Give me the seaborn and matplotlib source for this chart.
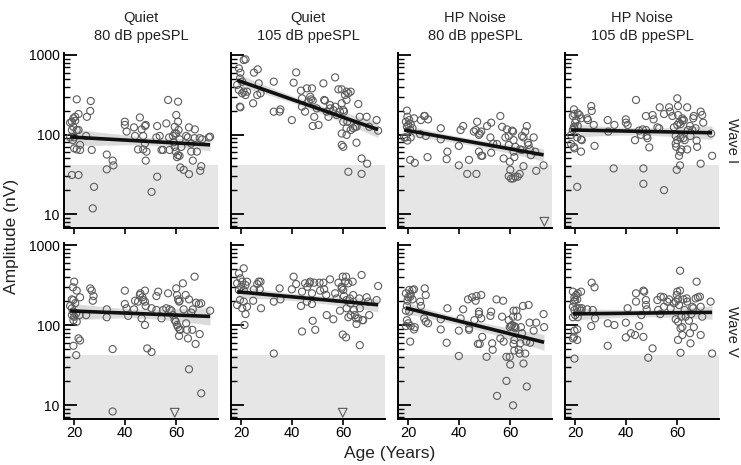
import numpy as np
import pandas as pd
import matplotlib
matplotlib.use("Agg")
import matplotlib.pyplot as plt
import seaborn as sns
from matplotlib.ticker import FixedLocator, FixedFormatter, NullFormatter

# ---------------- data ----------------
conditions = ["Quiet", "Quiet", "HP Noise", "HP Noise"]
levels = ["80 dB ppeSPL", "105 dB ppeSPL", "80 dB ppeSPL", "105 dB ppeSPL"]
waves = ["Wave I", "Wave V"]
noise_floor = 42          # nV, shaded region upper bound
nondetect_value = 8       # nV, where non-detects (triangles) are drawn
x_ticks = [20, 40, 60]
y_tick_values = [10, 100, 1000]
y_tick_labels = ["10", "100", "1000"]

# (age in years, amplitude in nV)
quiet80_wave1 = [
    (21.0, 277), (26.5, 264), (26.3, 198), (21.7, 181), (19.7, 160), (20.4, 167), (19.1, 145),
    (18.4, 141), (20.4, 149), (19.7, 125), (19.1, 114), (21.0, 114), (21.7, 114), (20.0, 92),
    (18.4, 92), (20.0, 67), (21.0, 65), (22.3, 64), (22.3, 74), (19.5, 85), (26.9, 64),
    (24.7, 96), (25.0, 167), (19.1, 31), (21.7, 31), (27.8, 22), (27.3, 11.8), (32.8, 56),
    (35.1, 47), (35.4, 41), (32.8, 36.5), (39.9, 145), (39.9, 132), (40.6, 109), (43.5, 123),
    (43.9, 96), (45.8, 164), (46.5, 116), (47.8, 128), (48.1, 132), (47.1, 96), (47.8, 77),
    (47.1, 65), (48.4, 61), (48.1, 47), (45.1, 65), (50.4, 19), (52.6, 128), (52.6, 29.5),
    (52.3, 92), (53.6, 96), (54.3, 64), (54.9, 64), (56.2, 138), (56.9, 272), (57.3, 92),
    (58.8, 96), (57.5, 64), (59.5, 125), (60.1, 176), (60.8, 259), (60.8, 145), (61.0, 114),
    (60.1, 103), (61.4, 87), (59.5, 70), (59.9, 61), (60.8, 55), (60.4, 52), (61.4, 54),
    (62.1, 70), (61.7, 38.6), (63.0, 36), (65.1, 123), (64.0, 96), (64.7, 92), (65.1, 31.8),
    (66.0, 77), (66.0, 61), (66.6, 47), (67.4, 116), (67.3, 90), (68.2, 61), (69.3, 90),
    (69.9, 40), (69.5, 35), (70.3, 87), (72.9, 92), (73.4, 94), (59.1, 80), (59.5, 103),
]
quiet105_wave1 = [
    (21.0, 865), (21.7, 882), (19.1, 679), (19.7, 600), (19.5, 508), (20.4, 462), (18.4, 420),
    (19.1, 363), (21.0, 346), (22.3, 346), (21.7, 314), (20.4, 330), (19.7, 220), (19.5, 224),
    (24.7, 247), (25.0, 600), (26.5, 660), (26.9, 440), (26.3, 314), (27.6, 330), (32.8, 462),
    (32.8, 194), (35.4, 207), (35.1, 194), (39.9, 152), (40.6, 449), (41.6, 605), (43.5, 356),
    (43.9, 224), (43.9, 285), (45.1, 194), (45.8, 381), (46.5, 259), (47.1, 299), (47.4, 277),
    (48.1, 267), (47.8, 381), (48.7, 167), (48.1, 128), (50.4, 132), (49.7, 213), (52.3, 440),
    (52.6, 272), (52.9, 267), (53.6, 194), (54.3, 167), (54.9, 213), (56.9, 523), (56.9, 224),
    (58.2, 370), (58.8, 194), (59.5, 370), (59.5, 247), (60.1, 203), (60.4, 194), (60.8, 314),
    (61.4, 346), (61.4, 272), (62.1, 330), (63.0, 346), (60.1, 145), (59.5, 103), (59.5, 74),
    (60.1, 70), (61.4, 120), (61.7, 145), (61.4, 99), (62.1, 34), (63.0, 114), (64.0, 120),
    (64.7, 125), (65.3, 125), (66.0, 242), (65.3, 79), (66.6, 167), (67.3, 50), (67.3, 32),
    (69.3, 167), (69.5, 43), (70.3, 125), (73.2, 152), (73.8, 112), (57.5, 176), (56.2, 203),
    (54.9, 235),
]
hp80_wave1 = [
    (19.5, 200), (19.7, 167), (19.1, 145), (20.4, 152), (20.0, 132), (21.0, 135), (21.7, 120),
    (22.3, 160), (19.5, 125), (20.8, 114), (18.4, 92), (19.7, 84), (19.1, 92), (21.0, 92),
    (20.8, 48), (22.6, 44), (24.7, 101), (25.0, 152), (26.3, 171), (26.5, 171), (27.8, 155),
    (26.9, 96), (27.6, 52), (32.8, 120), (32.8, 87), (35.4, 61), (35.1, 49), (39.9, 72),
    (39.9, 41), (40.6, 114), (41.6, 128), (43.9, 48), (43.2, 32), (45.8, 109), (46.5, 114),
    (46.8, 32), (47.1, 145), (47.8, 99), (48.1, 103), (48.7, 109), (47.8, 61), (48.7, 54),
    (49.1, 54), (51.0, 128), (52.3, 92), (52.6, 141), (52.6, 59), (53.4, 77), (54.9, 76),
    (56.2, 171), (56.9, 125), (57.5, 50), (58.2, 92), (58.8, 116), (59.5, 96), (59.5, 74),
    (59.9, 45.5), (60.1, 36), (60.8, 112), (61.2, 109), (61.4, 85), (61.4, 61), (61.7, 52),
    (62.1, 70), (59.5, 30), (60.4, 28), (61.2, 28), (62.1, 29.5), (63.0, 29.5), (63.8, 32),
    (64.0, 65), (64.7, 96), (65.3, 92), (65.3, 40), (66.0, 109), (66.6, 128), (67.0, 79),
    (67.3, 74), (67.9, 65), (69.3, 92), (69.9, 61), (70.3, 35), (73.2, 41), (68.2, 55),
    (64.7, 64),
]
hp105_wave1 = [
    (19.5, 207), (19.7, 181), (19.1, 171), (21.0, 185), (21.7, 176), (20.4, 152), (20.0, 141),
    (22.3, 160), (19.5, 125), (19.1, 114), (19.7, 120), (21.0, 128), (18.4, 99), (20.8, 92),
    (22.3, 87), (22.6, 85), (18.4, 76), (19.5, 70), (19.7, 67), (22.3, 61), (20.8, 22),
    (24.7, 160), (25.0, 152), (26.3, 228), (26.5, 198), (27.3, 132), (27.6, 72), (32.8, 152),
    (33.0, 109), (35.4, 132), (35.1, 37.5), (39.9, 155), (39.9, 141), (40.6, 132), (43.9, 272),
    (43.5, 85), (45.1, 112), (45.8, 99), (46.5, 116), (46.8, 37.5), (46.8, 24), (47.8, 171),
    (47.8, 114), (48.1, 96), (48.4, 90), (49.1, 69), (50.4, 176), (50.8, 155), (52.3, 123),
    (53.0, 120), (53.2, 220), (54.9, 20), (54.9, 181), (56.9, 220), (57.3, 194), (58.2, 171),
    (58.8, 123), (59.5, 96), (60.1, 285), (60.4, 228), (60.4, 176), (60.1, 132), (60.1, 85),
    (59.5, 77), (59.7, 70), (59.9, 36), (60.8, 141), (61.4, 135), (61.4, 92), (62.1, 160),
    (62.1, 149), (62.7, 152), (63.0, 85), (64.0, 220), (64.0, 65), (64.3, 114), (65.1, 128),
    (65.3, 96), (66.0, 114), (66.4, 160), (66.6, 171), (67.3, 120), (67.7, 84), (67.9, 70),
    (69.3, 194), (69.9, 176), (70.3, 141), (69.3, 43), (73.4, 103), (73.8, 54), (61.2, 61),
    (60.8, 54), (61.2, 41), (61.7, 65), (62.5, 90),
]
quiet80_wave5 = [
    (20.0, 348), (19.5, 296), (21.0, 269), (22.3, 222), (19.1, 209), (19.7, 205), (18.4, 173),
    (19.1, 162), (20.4, 187), (19.5, 147), (20.8, 140), (20.0, 127), (19.1, 133), (19.7, 115),
    (21.0, 110), (22.1, 133), (24.7, 133), (26.3, 287), (26.9, 269), (27.6, 230), (27.3, 201),
    (32.8, 157), (32.8, 125), (35.1, 50), (39.9, 269), (39.9, 183), (40.6, 162), (41.2, 130),
    (43.5, 157), (43.9, 201), (45.1, 196), (45.8, 237), (46.0, 249), (46.8, 222), (47.1, 205),
    (47.8, 269), (47.8, 196), (48.1, 173), (46.5, 121), (47.8, 100), (48.7, 51), (50.4, 46),
    (50.4, 162), (52.3, 230), (53.0, 261), (52.3, 154), (54.3, 121), (54.9, 154), (56.2, 162),
    (56.9, 249), (57.5, 157), (58.2, 151), (58.8, 133), (59.5, 115), (59.9, 110), (60.1, 287),
    (60.4, 237), (60.8, 209), (61.2, 196), (61.4, 201), (60.4, 100), (60.8, 94), (61.4, 88),
    (61.7, 87), (61.2, 73), (62.7, 332), (63.0, 157), (63.8, 237), (64.0, 105), (64.3, 87),
    (65.1, 209), (64.7, 68), (66.0, 143), (66.4, 87), (66.6, 157), (67.3, 402), (67.7, 58),
    (67.9, 190), (69.0, 183), (69.9, 187), (69.3, 77), (73.4, 151), (19.7, 55), (20.8, 42),
    (21.7, 68), (22.3, 64), (35.1, 8.3), (65.1, 28), (69.9, 14),
]
quiet105_wave5 = [
    (21.0, 511), (19.1, 442), (19.7, 383), (20.4, 348), (18.4, 332), (20.0, 301), (19.1, 274),
    (21.0, 274), (21.7, 316), (22.3, 348), (19.5, 205), (21.0, 196), (22.3, 169), (21.7, 137),
    (20.4, 162), (18.4, 178), (21.3, 100), (24.7, 201), (25.0, 279), (26.3, 325), (26.9, 348),
    (27.6, 348), (27.3, 279), (27.8, 162), (32.8, 196), (32.8, 44), (35.1, 287), (35.4, 209),
    (39.9, 279), (40.6, 402), (41.6, 325), (43.5, 173), (43.9, 83), (43.9, 261), (45.1, 332),
    (45.8, 196), (46.0, 301), (46.8, 332), (47.1, 348), (47.8, 183), (47.8, 249), (48.1, 113),
    (48.7, 338), (49.1, 87), (50.8, 338), (51.0, 269), (52.3, 338), (52.6, 279), (53.4, 237),
    (53.6, 133), (54.9, 372), (56.2, 118), (56.9, 249), (57.5, 215), (58.2, 338), (58.8, 151),
    (59.5, 287), (59.9, 402), (60.1, 274), (60.4, 230), (60.8, 348), (61.2, 402), (61.4, 162),
    (62.1, 332), (62.1, 125), (62.7, 215), (63.0, 133), (63.8, 348), (64.0, 237), (64.3, 154),
    (64.7, 133), (65.1, 121), (65.3, 103), (66.0, 121), (66.4, 215), (66.6, 162), (67.3, 422),
    (67.7, 115), (67.9, 115), (69.3, 222), (69.9, 196), (70.3, 133), (66.6, 56), (73.2, 205),
    (73.8, 307), (59.9, 76), (61.2, 70), (63.0, 187), (59.5, 301), (61.4, 205),
]
hp80_wave5 = [
    (19.1, 249), (20.4, 274), (21.7, 274), (22.3, 279), (21.0, 244), (20.0, 222), (20.8, 226),
    (19.7, 201), (21.7, 209), (19.5, 173), (19.1, 151), (20.4, 147), (19.5, 115), (20.0, 105),
    (19.1, 97), (21.0, 97), (22.3, 88), (22.6, 94), (20.8, 62), (24.7, 196), (25.0, 173),
    (26.5, 287), (26.9, 237), (26.3, 121), (26.9, 110), (27.8, 105), (32.8, 118), (32.8, 88),
    (35.4, 162), (35.1, 60), (39.9, 85), (39.9, 41), (40.6, 121), (41.6, 157), (43.5, 209),
    (43.9, 91), (43.9, 87), (45.1, 222), (46.0, 115), (46.5, 201), (46.8, 230), (47.4, 58),
    (47.8, 147), (47.8, 137), (48.1, 58), (48.7, 237), (48.7, 121), (49.1, 71), (50.8, 40),
    (52.3, 130), (52.6, 147), (53.0, 59), (53.2, 49), (54.7, 209), (56.2, 68), (56.9, 127),
    (57.3, 201), (57.5, 62), (59.5, 115), (59.9, 94), (59.9, 40), (60.1, 32), (60.4, 97),
    (60.8, 100), (61.2, 127), (61.4, 151), (61.7, 97), (62.1, 94), (61.4, 58), (61.7, 48),
    (62.1, 91), (62.5, 151), (63.0, 127), (63.4, 49), (63.8, 44), (64.0, 59), (64.3, 94),
    (64.7, 79), (65.1, 173), (65.3, 33), (66.0, 44), (66.4, 62), (67.3, 178), (67.7, 107),
    (67.9, 60), (69.3, 85), (70.3, 107), (73.2, 137), (73.4, 94), (58.6, 20), (54.9, 13),
    (61.2, 9.9), (66.6, 17), (58.6, 40), (61.7, 65),
]
hp105_wave5 = [
    (19.1, 261), (20.4, 237), (19.7, 222), (20.8, 209), (19.5, 196), (20.0, 205), (21.0, 249),
    (22.3, 261), (19.1, 169), (19.7, 154), (20.8, 162), (21.7, 162), (22.6, 162), (20.0, 133),
    (19.1, 125), (21.0, 125), (22.3, 151), (19.7, 85), (20.8, 88), (19.5, 71), (20.8, 65),
    (19.1, 68), (19.7, 38), (24.7, 157), (26.5, 338), (27.6, 296), (26.9, 154), (27.8, 121),
    (26.3, 97), (32.8, 105), (35.4, 100), (32.8, 55), (39.9, 107), (39.9, 70), (40.6, 162),
    (41.9, 79), (43.5, 75), (43.9, 249), (43.9, 196), (45.1, 97), (46.0, 133), (46.8, 269),
    (47.1, 261), (47.8, 205), (47.8, 178), (48.1, 157), (46.8, 71), (48.7, 39), (50.4, 51),
    (52.3, 205), (52.6, 154), (53.4, 137), (53.6, 226), (54.7, 222), (54.9, 169), (56.2, 196),
    (56.9, 209), (57.5, 162), (58.8, 187), (59.5, 196), (59.5, 118), (59.9, 237), (60.1, 261),
    (60.4, 209), (60.8, 178), (61.2, 269), (61.2, 477), (61.4, 91), (60.4, 110), (60.4, 65),
    (61.7, 127), (62.1, 75), (62.1, 94), (62.5, 209), (63.0, 154), (63.4, 127), (63.8, 215),
    (64.0, 196), (64.7, 113), (65.1, 79), (65.3, 59), (65.6, 137), (66.0, 169), (66.4, 162),
    (66.6, 94), (67.3, 215), (67.7, 348), (68.2, 222), (69.0, 226), (69.3, 169), (69.9, 127),
    (69.3, 75), (73.2, 196), (73.8, 44), (61.4, 45),
]

# ages of non-detected responses (drawn as triangles at the bottom)
quiet80_wave1_nd = []
quiet105_wave1_nd = []
hp80_wave1_nd = [73.5]
hp105_wave1_nd = []
quiet80_wave5_nd = [59.5]
quiet105_wave5_nd = [59.9]
hp80_wave5_nd = []
hp105_wave5_nd = []

panels = [[quiet80_wave1, quiet105_wave1, hp80_wave1, hp105_wave1],
          [quiet80_wave5, quiet105_wave5, hp80_wave5, hp105_wave5]]
nondetects = [[quiet80_wave1_nd, quiet105_wave1_nd, hp80_wave1_nd, hp105_wave1_nd],
              [quiet80_wave5_nd, quiet105_wave5_nd, hp80_wave5_nd, hp105_wave5_nd]]

# ---------------- style ----------------
sns.set_theme(style="ticks")
plt.rcParams["font.family"] = ["Liberation Sans", "DejaVu Sans"]

W, H = 741, 465
fig = plt.figure(figsize=(W / 100, H / 100), dpi=100)

col_left = [64, 231, 398, 565]
col_w = 154
row_top = [53.4, 243.4]
row_bot = [228, 419]

ylo, yhi = 0.825, 3.02
minor = [np.log10(m * 10 ** d) for d in range(0, 3) for m in range(2, 10)]
minor = [v for v in minor if ylo <= v <= yhi]

pt_color = "#5c5c5c"

for r in range(2):
    for c in range(4):
        rect = [col_left[c] / W, 1 - row_bot[r] / H, col_w / W, (row_bot[r] - row_top[r]) / H]
        ax = fig.add_axes(rect)
        df = pd.DataFrame(panels[r][c], columns=["age", "amp"])
        df["logamp"] = np.log10(df["amp"])

        ax.axhspan(ylo, np.log10(noise_floor), color="#e6e6e6", lw=0, zorder=0)
        sns.scatterplot(data=df, x="age", y="logamp", ax=ax, marker="o", s=26,
                        facecolors="none", edgecolor=pt_color, linewidth=0.8, zorder=2)
        nd = nondetects[r][c]
        if nd:
            ndf = pd.DataFrame({"age": nd, "logamp": [np.log10(nondetect_value)] * len(nd)})
            sns.scatterplot(data=ndf, x="age", y="logamp", ax=ax, marker="v", s=40,
                            facecolors="none", edgecolor=pt_color, linewidth=0.8, zorder=2)
        sns.regplot(data=df, x="age", y="logamp", ax=ax, scatter=False, ci=95, seed=3,
                    color="#111111", line_kws=dict(lw=2.6, zorder=4, solid_capstyle="butt"))

        ax.set_xlim(16, 76.5)
        ax.set_ylim(ylo, yhi)
        ax.set_xlabel("")
        ax.set_ylabel("")
        ax.set_xticks(x_ticks)
        ax.yaxis.set_major_locator(FixedLocator(np.log10(y_tick_values)))
        ax.yaxis.set_minor_locator(FixedLocator(minor))
        ax.yaxis.set_minor_formatter(NullFormatter())
        if c == 0:
            ax.yaxis.set_major_formatter(FixedFormatter(y_tick_labels))
        else:
            ax.set_yticklabels([])
        if r == 0:
            ax.set_xticklabels([])
        else:
            ax.set_xticklabels([str(t) for t in x_ticks])
        ax.tick_params(axis="y", which="major", direction="in", length=9, width=1.3,
                       labelsize=10, pad=3, colors="black")
        ax.tick_params(axis="y", which="minor", direction="in", length=4.5, width=1.0,
                       colors="black")
        ax.tick_params(axis="x", which="major", direction="out", length=4, width=1.2,
                       labelsize=10.5, pad=1.2, colors="black")
        for s in ["top", "right"]:
            ax.spines[s].set_visible(False)
        for s in ["left", "bottom"]:
            ax.spines[s].set_linewidth(1.4)
            ax.spines[s].set_color("black")
        ax.set_facecolor("white")

# column headers
for c in range(4):
    cx = (col_left[c] + col_w / 2) / W
    fig.text(cx, 1 - 18 / H, conditions[c], ha="center", va="center", fontsize=10.5, color="#222222")
    fig.text(cx, 1 - 36 / H, levels[c], ha="center", va="center", fontsize=10.5, color="#222222")

# row labels
for r in range(2):
    cy = 1 - ((row_top[r] + row_bot[r]) / 2) / H
    fig.text(732 / W, cy, waves[r], rotation=270, ha="center", va="center", fontsize=10.5,
             color="#222222")

fig.text(390 / W, 1 - 453 / H, "Age (Years)", ha="center", va="center", fontsize=12.5,
         color="#222222")
fig.text(12 / W, 1 - 236 / H, "Amplitude (nV)", rotation=90, ha="center", va="center",
         fontsize=12.5, color="#222222")

fig.savefig("out.png", dpi=100, facecolor="white")
